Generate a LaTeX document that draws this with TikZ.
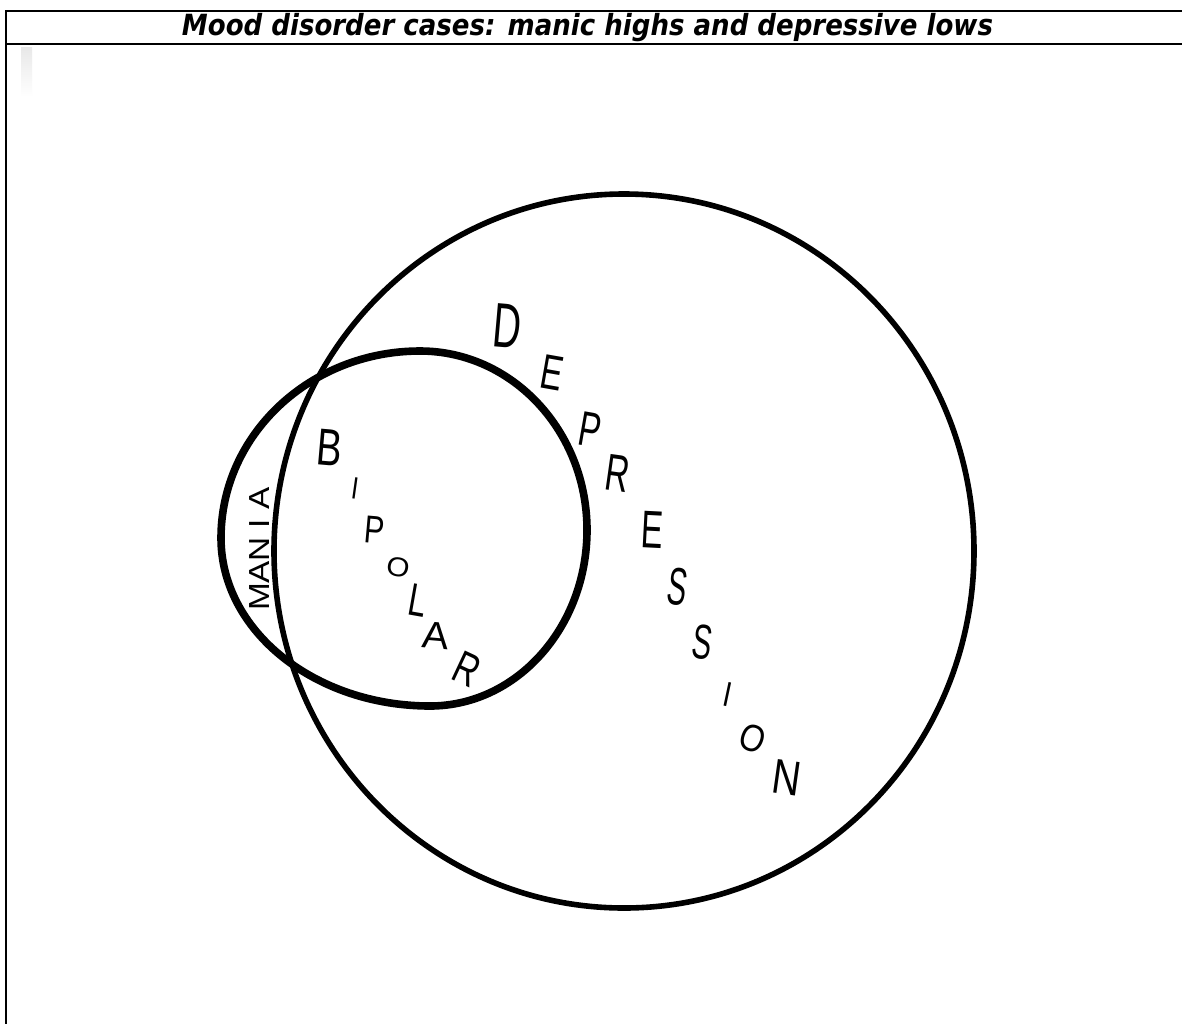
\documentclass[tikz,border=0pt]{standalone}
\usepackage{fontspec}
\usepackage{graphicx}
\newfontfamily\titlefont{DejaVu Sans}
\newfontfamily\handfont{Liberation Sans}
\begin{document}
\begin{tikzpicture}[x=1pt,y=-1pt,
  frameline/.style={line width=2.4pt, line cap=rect},
  outerring/.style={line width=5.6pt, line join=round},
  innerring/.style={line width=7.6pt, line join=round, line cap=round},
  glyph/.style={inner sep=0pt, outer sep=0pt},
]
% page area
\useasboundingbox (0,0) rectangle (1182,1023);
\fill[white] (0,0) rectangle (1182,1023);

% frame and title bar
\draw[frameline] (6,1023) -- (6,11) -- (1182,11);
\draw[frameline] (6,44) -- (1182,44);
\node[glyph, anchor=base] (title) at (587.5,35)
  {\scalebox{1}[1.12]{\resizebox{811pt}{!}{\titlefont\bfseries\itshape Mood disorder cases: manic highs and depressive lows}}};

% faint scan mark
\shade[top color=black!9, bottom color=white] (21,47) rectangle (32,97);

% depression ring
\draw[outerring] (624,551) ellipse[x radius=350, y radius=357];

% bipolar / mania ring, four quarter arcs (y axis points down here)
\draw[innerring] (420,351)
  arc[start angle=-90, end angle=0,   x radius=167, y radius=179]
  arc[start angle=0,   end angle=90,  x radius=157, y radius=176]
  arc[start angle=90,  end angle=180, x radius=209, y radius=168]
  arc[start angle=180, end angle=270, x radius=199, y radius=187];

% MANIA, written upwards along the left lens
\begin{scope}[every node/.append style={glyph, rotate=90, xscale=1.15,
    font=\handfont\fontsize{29}{29}\selectfont}]
  \node (m1) at (260,597) {M};
  \node (m2) at (260,572) {A};
  \node (m3) at (260,549) {N};
  \node (m4) at (260,524) {I};
  \node (m5) at (260,498) {A};
\end{scope}

% BIPOLAR, letters stepping down inside the small ring
\node[glyph, rotate=-5,  xscale=0.73, font=\handfont\fontsize{52}{52}\selectfont] (b1) at (330,448) {B};
\node[glyph, rotate=-8,  xscale=0.8,  font=\handfont\fontsize{31}{31}\selectfont] (b2) at (355,488) {I};
\node[glyph, rotate=-5,  xscale=0.77, font=\handfont\fontsize{39}{39}\selectfont] (b3) at (375,530) {P};
\node[glyph, rotate=-10, xscale=1.1,  font=\handfont\fontsize{27}{27}\selectfont] (b4) at (398,567) {O};
\node[glyph, rotate=-10, xscale=0.7,  font=\handfont\fontsize{46}{46}\selectfont] (b5) at (418,600) {L};
\node[glyph, rotate=-5,  xscale=1.05, font=\handfont\fontsize{38}{38}\selectfont] (b6) at (436,636) {A};
\node[glyph, rotate=-25, xscale=0.72, font=\handfont\fontsize{46}{46}\selectfont] (b7) at (467,669) {R};

% DEPRESSION, letters stepping down inside the large ring
\node[glyph, rotate=-5,  xscale=0.62, font=\handfont\fontsize{63}{63}\selectfont] (d1) at (507,326) {D};
\node[glyph, rotate=-10, xscale=0.67, font=\handfont\fontsize{49}{49}\selectfont] (d2) at (552,373) {E};
\node[glyph, rotate=-10, xscale=0.67, font=\handfont\fontsize{49}{49}\selectfont] (d3) at (590,430) {P};
\node[glyph, rotate=-8,  xscale=0.63, font=\handfont\fontsize{52}{52}\selectfont] (d4) at (618,473) {R};
\node[glyph, rotate=-3,  xscale=0.62, font=\handfont\fontsize{53}{53}\selectfont] (d5) at (652,530) {E};
\node[glyph, rotate=-8,  xscale=0.55, font=\handfont\fontsize{53}{53}\selectfont] (d6) at (678,587) {S};
\node[glyph, rotate=-8,  xscale=0.6,  font=\handfont\fontsize{49}{49}\selectfont] (d7) at (703,642) {S};
\node[glyph, rotate=-12, xscale=0.8,  font=\handfont\fontsize{35}{35}\selectfont] (d8) at (728,695) {I};
\node[glyph, rotate=-20, xscale=0.85, font=\handfont\fontsize{38}{38}\selectfont] (d9) at (753,738) {O};
\node[glyph, rotate=-8,  xscale=0.8,  font=\handfont\fontsize{49}{49}\selectfont] (d10) at (787,778) {N};
\end{tikzpicture}
\end{document}
